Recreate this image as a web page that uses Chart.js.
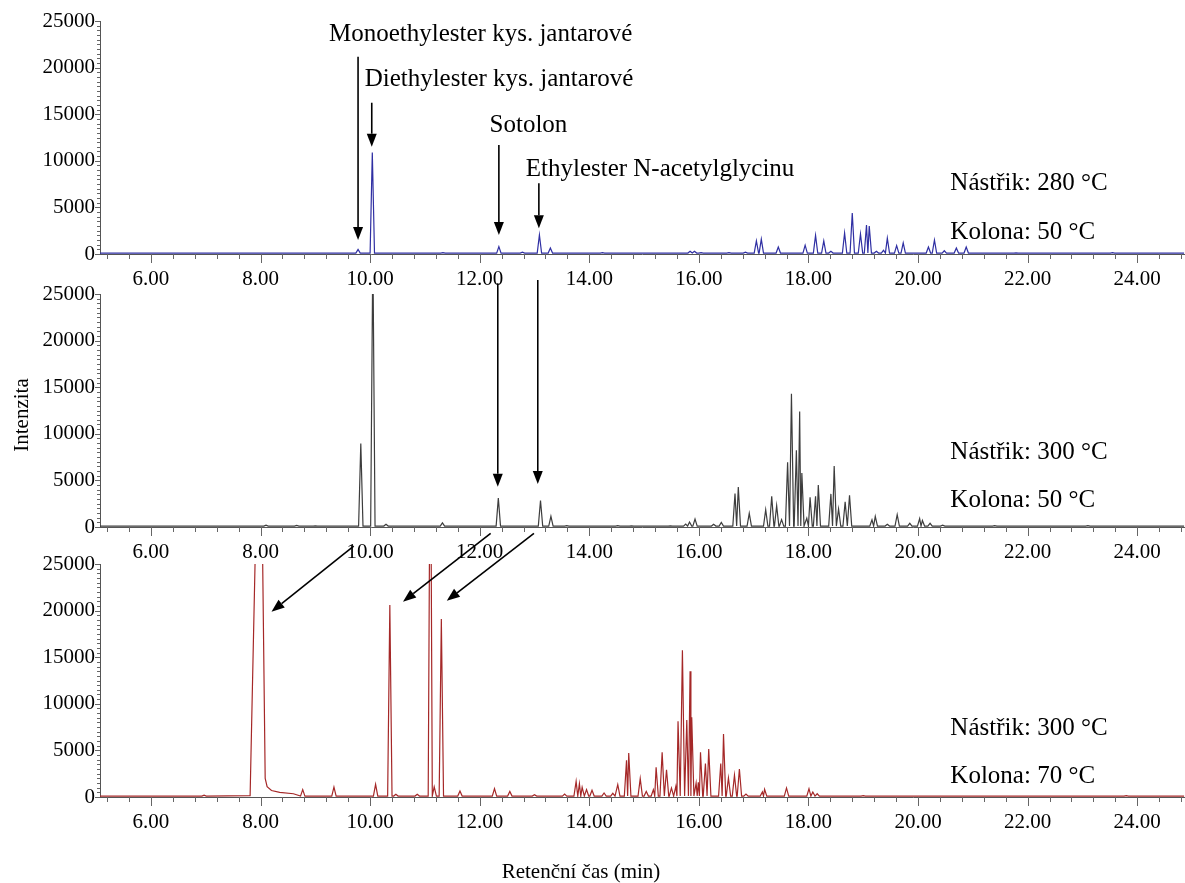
<!DOCTYPE html>
<html>
<head>
<meta charset="utf-8">
<script src="https://cdn.jsdelivr.net/npm/chart.js@4.4.0/dist/chart.umd.min.js"></script>
<style>
	html, body { margin: 0; padding: 0; background: #fff; overflow: hidden; width: 1185px; height: 883px; }
	canvas { position: absolute; left: 0; }
</style>
</head>
<body>
<canvas id="c1" width="1185" height="287" style="top:7px"></canvas>
<canvas id="c2" width="1185" height="287" style="top:280px"></canvas>
<canvas id="c3" width="1185" height="287" style="top:550px"></canvas>
<canvas id="overlay" width="1185" height="883" style="top:0;pointer-events:none"></canvas>
<script>
// retention time window (min) and intensity range shared by the three panels
const timeMin = 5.07, timeMax = 24.86;
const intensityMax = 25000;
const baseLevel = 100;
const peakHalfWidth = 0.04;

// panel 1: injector 280 °C, column 50 °C
const peakTimes1 = [9.78, 10.04, 11.33, 12.35, 12.78, 13.09, 13.29, 13.59, 14.24, 14.52, 15.84, 15.92, 16.04,
	16.55, 16.85, 17.05, 17.14, 17.45, 17.94, 18.13, 18.28, 18.41, 18.66, 18.80, 18.95, 19.06, 19.11, 19.24,
	19.37, 19.44, 19.61, 19.73, 20.19, 20.30, 20.48, 20.70, 20.88, 21.79, 23.55];
const peakHeights1 = [500, 10900, 150, 800, 200, 2050, 650, 100, 150, 100, 300, 300, 150,
	150, 200, 1400, 1600, 750, 950, 2000, 1400, 300, 2250, 4400, 2150, 3100, 3000, 300,
	400, 1700, 900, 1200, 750, 1500, 350, 650, 750, 120, 150];

// panel 2: injector 300 °C, column 50 °C
const peakTimes2 = [8.10, 8.66, 9.00, 9.83, 10.05, 10.29, 11.32, 12.34, 13.11, 13.30, 13.59, 14.52, 14.77,
	15.48, 15.76, 15.83, 15.93, 16.27, 16.41, 16.66, 16.72, 16.92, 17.22, 17.33, 17.42, 17.51, 17.62, 17.69,
	17.78, 17.84, 17.88, 17.97, 18.03, 18.13, 18.18, 18.41, 18.47, 18.55, 18.67, 18.75, 19.16, 19.22, 19.44,
	19.62, 19.85, 20.03, 20.08, 20.22, 20.45, 21.40, 22.40, 23.10];
const peakHeights2 = [200, 180, 120, 8950, 30000, 300, 450, 3100, 2850, 1150, 150, 150, 120,
	120, 320, 540, 860, 300, 500, 3600, 4300, 1470, 1860, 3300, 2300, 800, 6950, 14300,
	8240, 12400, 5800, 950, 3200, 3300, 4500, 3550, 6550, 1930, 2700, 3400, 780, 1150, 300,
	1320, 400, 900, 700, 400, 200, 150, 100, 150];

// panel 3: injector 300 °C, column 70 °C
const solventTimes3 = [7.81, 7.99, 8.085, 8.12, 8.20, 8.35, 8.60];
const solventValues3 = [150, 50000, 2000, 1100, 700, 500, 350];
const peakTimes3 = [6.97, 8.77, 9.34, 10.10, 10.36, 10.47, 10.86, 11.10, 11.17, 11.30, 11.64, 12.27, 12.55,
	13.00, 13.55, 13.76, 13.82, 13.87, 13.95, 14.05, 14.27, 14.43, 14.52, 14.68, 14.72, 14.93, 15.04, 15.17,
	15.22, 15.33, 15.41, 15.50, 15.58, 15.62, 15.70, 15.78, 15.84, 15.87, 15.95, 15.99, 16.03, 16.12, 16.18,
	16.40, 16.45, 16.54, 16.65, 16.74, 16.86, 17.16, 17.20, 17.60, 18.01, 18.08, 18.16, 19.00, 23.80];
const peakHeights3 = [200, 800, 1070, 1360, 20600, 300, 300, 45000, 1100, 19100, 650, 900, 600,
	250, 320, 1680, 1430, 1040, 790, 720, 430, 400, 1320, 3940, 4720, 1970, 600, 790,
	3190, 4790, 2930, 970, 1150, 8120, 15740, 8260, 13490, 8550, 1500, 1570, 4790, 3580, 5150,
	3580, 6760, 2040, 2330, 3000, 320, 540, 830, 970, 890, 540, 350, 150, 150];

const injectorTexts = ["Nástřik: 280 °C", "Nástřik: 300 °C", "Nástřik: 300 °C"];
const columnTexts = ["Kolona: 50 °C", "Kolona: 50 °C", "Kolona: 70 °C"];
const injectorLevels = [6870, 7300, 6650];
const columnLevels = [1630, 2110, 1470];
const conditionTime = 20.59;

// compound labels above panel 1 (left edge time, baseline intensity)
const compoundNames = ["Monoethylester kys. jantarové", "Diethylester kys. jantarové", "Sotolon", "Ethylester N-acetylglycinu"];
const compoundTimes = [9.25, 9.90, 12.18, 12.84];
const compoundLevels = [22850, 18030, 13120, 8400];

// arrows: [panel, time, intensity] -> [panel, time, intensity]
const arrows = [
	[[0, 9.78, 21170], [0, 9.78, 1500]],
	[[0, 10.03, 16230], [0, 10.03, 11510]],
	[[0, 12.35, 11700], [0, 12.35, 2040]],
	[[0, 13.08, 7590], [0, 13.08, 2760]],
	[[1, 12.33, 26150], [1, 12.33, 4320]],
	[[1, 13.06, 26500], [1, 13.06, 4610]],
	[[1, 9.70, -2040], [2, 8.20, 19880]],
	[[1, 12.20, -680], [2, 10.60, 20960]],
	[[1, 12.99, -680], [2, 11.40, 21060]],
];

const lineColors = ["#2f2fa3", "#3d3d3d", "#a52828"];
const canvasTops = [7, 280, 550];
const serif = "'Liberation Serif', 'Times New Roman', serif";

function isMultiple(v, step) {
	return Math.abs(v / step - Math.round(v / step)) < 1e-6;
}

// build the trace: every peak is a foot - apex - foot, feet meet halfway between close peaks
function buildTrace(times, heights, extraTimes, extraValues) {
	const pts = [{ x: timeMin, y: baseLevel }];
	for (let i = 0; i < times.length; i++) {
		const t = times[i];
		let left = t - peakHalfWidth, right = t + peakHalfWidth;
		if (i > 0) left = Math.max(left, (times[i - 1] + t) / 2);
		if (i < times.length - 1) right = Math.min(right, (t + times[i + 1]) / 2);
		pts.push({ x: left, y: baseLevel }, { x: t, y: heights[i] }, { x: right, y: baseLevel });
	}
	if (extraTimes) {
		extraTimes.forEach((t, i) => pts.push({ x: t, y: extraValues[i] }));
	}
	pts.push({ x: timeMax, y: baseLevel });
	pts.sort((a, b) => a.x - b.x);
	return pts;
}

const tickMarks = {
	id: "tickMarks",
	afterDraw(chart) {
		const ctx = chart.ctx, xs = chart.scales.x, ys = chart.scales.y, a = chart.chartArea;
		ctx.save();
		ctx.strokeStyle = "#666";
		ctx.lineWidth = 1;
		ctx.beginPath();
		xs.ticks.forEach((t) => {
			const x = Math.round(xs.getPixelForValue(t.value)) + 0.5;
			const len = isMultiple(t.value, 2) ? 9 : 5;
			ctx.moveTo(x, a.bottom);
			ctx.lineTo(x, a.bottom + len);
		});
		ys.ticks.forEach((t) => {
			const y = Math.round(ys.getPixelForValue(t.value)) + 0.5;
			const len = isMultiple(t.value, 5000) ? 5 : 3;
			ctx.moveTo(a.left, y);
			ctx.lineTo(a.left - len, y);
		});
		ctx.stroke();
		ctx.restore();
	},
};

function makeChart(id, points, color) {
	return new Chart(document.getElementById(id), {
		type: "line",
		data: {
			datasets: [{
				data: points,
				borderColor: color,
				borderWidth: 1.2,
				pointRadius: 0,
				tension: 0,
				fill: false,
			}],
		},
		options: {
			responsive: false,
			animation: false,
			events: [],
			layout: { padding: { top: 14, left: 0, right: 0, bottom: 0 } },
			plugins: { legend: { display: false }, tooltip: { enabled: false } },
			scales: {
				x: {
					type: "linear",
					min: timeMin,
					max: timeMax,
					afterFit: (s) => { s.height = 40; },
					grid: { drawOnChartArea: false, tickLength: 9, color: "rgba(0,0,0,0)" },
					border: { display: true, color: "#555", width: 1 },
					ticks: {
						stepSize: 0.4,
						includeBounds: false,
						autoSkip: false,
						maxRotation: 0,
						minRotation: 0,
						padding: 4,
						color: "#000",
						font: { family: serif, size: 21 },
						callback: (v) => (isMultiple(v, 2) ? Number(v).toFixed(2) : ""),
					},
				},
				y: {
					min: 0,
					max: intensityMax,
					afterFit: (s) => { s.width = 100; },
					grid: { drawOnChartArea: false, tickLength: 4, color: "rgba(0,0,0,0)" },
					border: { display: true, color: "#555", width: 1 },
					ticks: {
						stepSize: 500,
						autoSkip: false,
						padding: 1,
						color: "#000",
						font: { family: serif, size: 21 },
						callback: (v) => (isMultiple(v, 5000) ? String(Math.round(v)) : ""),
					},
				},
			},
		},
		plugins: [tickMarks],
	});
}

const charts = [
	makeChart("c1", buildTrace(peakTimes1, peakHeights1), lineColors[0]),
	makeChart("c2", buildTrace(peakTimes2, peakHeights2), lineColors[1]),
	makeChart("c3", buildTrace(peakTimes3, peakHeights3, solventTimes3, solventValues3), lineColors[2]),
];

function toPage(p, t, v) {
	const c = charts[p];
	return [c.scales.x.getPixelForValue(t), canvasTops[p] + c.scales.y.getPixelForValue(v)];
}

// annotations drawn over all three panels
const ov = document.getElementById("overlay").getContext("2d");
ov.fillStyle = "#000";
ov.textBaseline = "alphabetic";
ov.font = "25px " + serif;
compoundNames.forEach((name, i) => {
	const [x, y] = toPage(0, compoundTimes[i], compoundLevels[i]);
	ov.fillText(name, x, y);
});
for (let p = 0; p < 3; p++) {
	let [x, y] = toPage(p, conditionTime, injectorLevels[p]);
	ov.fillText(injectorTexts[p], x, y);
	[x, y] = toPage(p, conditionTime, columnLevels[p]);
	ov.fillText(columnTexts[p], x, y);
}

ov.strokeStyle = "#000";
ov.lineWidth = 1.6;
arrows.forEach(([from, to]) => {
	const [x0, y0] = toPage(...from);
	const [x1, y1] = toPage(...to);
	const ang = Math.atan2(y1 - y0, x1 - x0);
	const headLen = 13, headHalf = 5;
	const bx = x1 - headLen * Math.cos(ang), by = y1 - headLen * Math.sin(ang);
	ov.beginPath();
	ov.moveTo(x0, y0);
	ov.lineTo(bx, by);
	ov.stroke();
	ov.beginPath();
	ov.moveTo(x1, y1);
	ov.lineTo(bx + headHalf * Math.sin(ang), by - headHalf * Math.cos(ang));
	ov.lineTo(bx - headHalf * Math.sin(ang), by + headHalf * Math.cos(ang));
	ov.closePath();
	ov.fill();
});

// axis titles
ov.font = "21px " + serif;
ov.textAlign = "center";
ov.textBaseline = "middle";
ov.fillText("Retenční čas (min)", 581, 872);
ov.save();
ov.translate(22, 415);
ov.rotate(-Math.PI / 2);
ov.fillText("Intenzita", 0, 0);
ov.restore();
</script>
</body>
</html>
